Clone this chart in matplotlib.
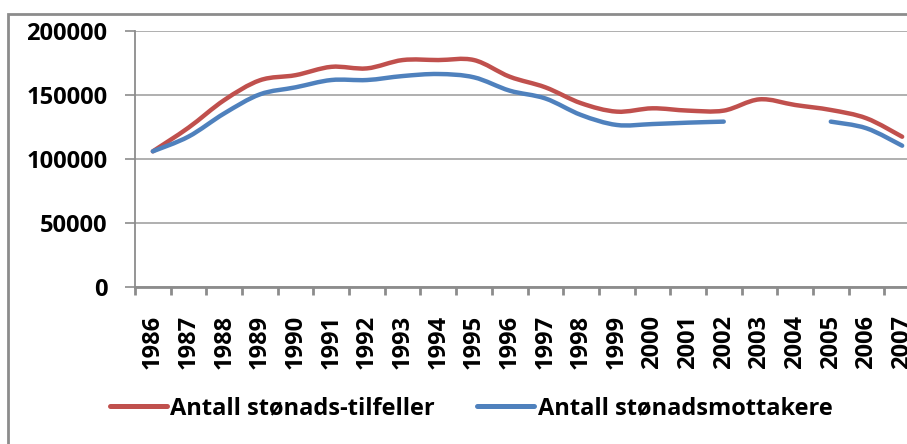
import numpy as np
import matplotlib
matplotlib.use("Agg")
import matplotlib.pyplot as plt
from matplotlib.path import Path
from matplotlib.patches import PathPatch, Rectangle
from matplotlib.lines import Line2D

# data
years = list(range(1986, 2008))
tilfeller = [106000, 124500, 146000, 161500, 165500, 172000, 170800, 177300, 177300, 177300,
             164300, 156000, 143600, 137000, 139600, 137800, 137800, 146600, 142200, 138300,
             131800, 117400]
mottakere = [106000, 117500, 135600, 150500, 156000, 161700, 161700, 164800, 166400, 163800,
             153400, 147300, 134400, 126600, 127300, 128400, 129200, np.nan, np.nan, 129200,
             124000, 110400]
series_names = ["Antall stønads-tilfeller", "Antall stønadsmottakere"]
colors = ["#C0504D", "#4F81BD"]

W, H = 907, 444
fig = plt.figure(figsize=(W / 100, H / 100), dpi=100)
ax = fig.add_axes([135 / W, 1 - 287 / H, (920 - 135) / W, (287 - 31) / H])

font = ["Open Sans", "DejaVu Sans"]


def smooth_path(x, y):
    # Excel style smoothed line: cubic bezier through each point (catmull-rom)
    x = np.asarray(x, float)
    y = np.asarray(y, float)
    pts = np.column_stack([x, y])
    verts = [pts[0]]
    codes = [Path.MOVETO]
    n = len(pts)
    for i in range(n - 1):
        p0 = pts[i - 1] if i > 0 else pts[i]
        p1 = pts[i]
        p2 = pts[i + 1]
        p3 = pts[i + 2] if i + 2 < n else pts[i + 1]
        c1 = p1 + (p2 - p0) / 6
        c2 = p2 - (p3 - p1) / 6
        verts += [c1, c2, p2]
        codes += [Path.CURVE4] * 3
    return Path(verts, codes)


xs = np.arange(len(years))
for vals, col in zip([tilfeller, mottakere], colors):
    vals = np.asarray(vals, float)
    ok = ~np.isnan(vals)
    # split into runs without gaps
    start = None
    for i in range(len(vals) + 1):
        if i < len(vals) and ok[i]:
            if start is None:
                start = i
        elif start is not None:
            p = smooth_path(xs[start:i], vals[start:i])
            ax.add_patch(PathPatch(p, facecolor="none", edgecolor=col, lw=3.2,
                                   capstyle="round", joinstyle="round", zorder=3))
            start = None

ax.set_xlim(-0.5, len(years) - 0.5)
ax.set_ylim(0, 200000)
ax.set_yticks([0, 50000, 100000, 150000, 200000])
ax.set_yticklabels(["0", "50000", "100000", "150000", "200000"],
                   fontfamily=font, fontweight="bold", fontsize=17)
ax.grid(axis="y", color="#9A9A9A", lw=1.1)
ax.set_axisbelow(True)

ax.set_xticks(xs - 0.5)
ax.set_xticklabels([])
ax.set_xticks(xs, minor=True)
ax.set_xticklabels([str(y) for y in years], minor=True, rotation=90,
                   fontfamily=font, fontweight="bold", fontsize=17, va="top")
ax.tick_params(axis="x", which="major", length=6, width=2, color="#8C8C8C", direction="out")
ax.tick_params(axis="x", which="minor", length=0, pad=20)
ax.tick_params(axis="y", length=7, width=1.2, color="#8C8C8C", pad=13)

for s in ["top", "right"]:
    ax.spines[s].set_visible(False)
ax.spines["left"].set_color("#8C8C8C")
ax.spines["left"].set_linewidth(1.3)
ax.spines["bottom"].set_color("#8C8C8C")
ax.spines["bottom"].set_linewidth(2)

handles = [Line2D([], [], color=c, lw=3.6, solid_capstyle="round") for c in colors]
fig.legend(handles, series_names, loc="center left", bbox_to_anchor=(110 / W, 1 - 408 / H),
           ncol=2, frameon=False, borderpad=0, borderaxespad=0, handlelength=2.4,
           handletextpad=0.15, columnspacing=1.8,
           prop={"family": font, "weight": "bold", "size": 17})

# outer chart frame (cropped at right and bottom)
fig.add_artist(Rectangle((7.5 / W, -0.2), 1.5, 1.2 - 14 / H, transform=fig.transFigure,
                         fill=False, edgecolor="#8C8C8C", lw=2))

fig.savefig("out.png", dpi=100)
